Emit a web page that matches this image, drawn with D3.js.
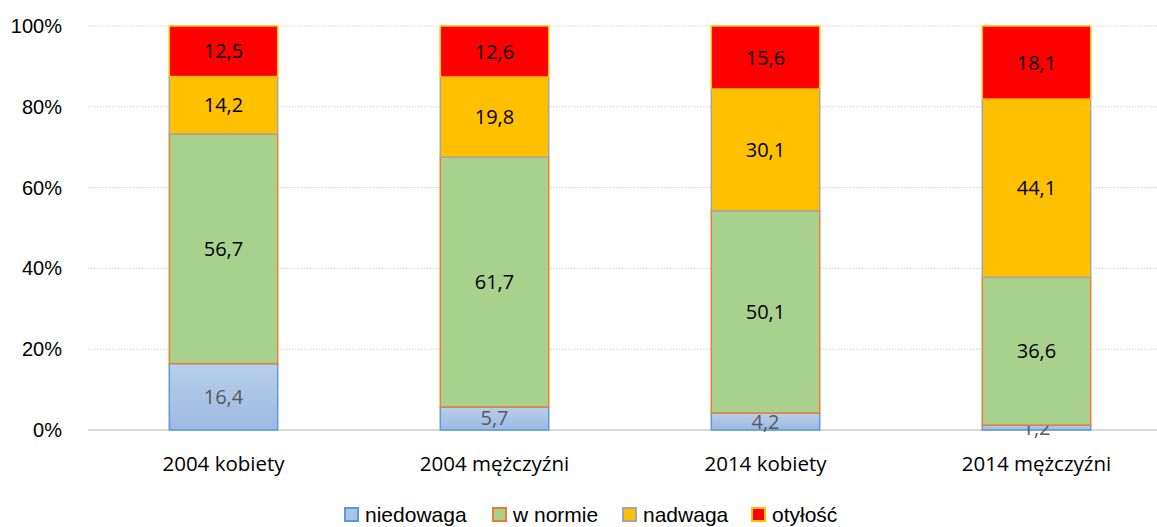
<!DOCTYPE html>
<html>
<head>
<meta charset="utf-8">
<script src="https://cdn.jsdelivr.net/npm/d3@7"></script>
<style>
  body { margin: 0; background: #fff; }
  svg { display: block; }
</style>
</head>
<body>
<svg id="chart" width="1157" height="527"></svg>
<script>
const categories = ['2004 kobiety', '2004 mężczyźni', '2014 kobiety', '2014 mężczyźni']
const seriesNames = ['niedowaga', 'w normie', 'nadwaga', 'otyłość']
const niedowaga = [16.4, 5.7, 4.2, 1.2]
const wNormie = [56.7, 61.7, 50.1, 36.6]
const nadwaga = [14.2, 19.8, 30.1, 44.1]
const otylosc = [12.5, 12.6, 15.6, 18.1]
const yTicks = [0, 0.2, 0.4, 0.6, 0.8, 1]

const fills = ['url(#gradBlue)', '#a9d18e', '#ffc000', '#ff0000']
const strokes = ['#5b9bd5', '#ed7d31', '#a5a5a5', '#ffc000']
const labelColors = ['#595959', '#000', '#000', '#000']
const legendFills = ['#a9c4e8', '#a9d18e', '#ffc000', '#ff0000']

const svg = d3.select('#chart')
const defs = svg.append('defs')
const grad = defs.append('linearGradient').attr('id', 'gradBlue')
  .attr('x1', 0).attr('y1', 0).attr('x2', 0).attr('y2', 1)
grad.append('stop').attr('offset', '0%').attr('stop-color', '#b8cfec')
grad.append('stop').attr('offset', '100%').attr('stop-color', '#9cb9e1')

const rows = categories.map((c, i) => ({
  cat: c,
  'niedowaga': niedowaga[i],
  'w normie': wNormie[i],
  'nadwaga': nadwaga[i],
  'otyłość': otylosc[i]
}))

const stack = d3.stack().keys(seriesNames).offset(d3.stackOffsetExpand)
const layers = stack(rows)

const x = d3.scaleBand().domain(categories).range([88, 1172]).paddingInner(0.6).paddingOuter(0.3)
const y = d3.scaleLinear().domain([0, 1]).range([430, 26])

// gridlines
svg.append('g').selectAll('line').data(yTicks.filter(t => t > 0)).enter().append('line')
  .attr('x1', 88).attr('x2', 1157)
  .attr('y1', d => y(d)).attr('y2', d => y(d))
  .attr('stroke', '#d0d0d0').attr('stroke-width', 1).attr('stroke-dasharray', '1.5,1.5')

// axis line
svg.append('line').attr('x1', 88).attr('x2', 1157).attr('y1', y(0)).attr('y2', y(0))
  .attr('stroke', '#d9d9d9').attr('stroke-width', 2)

// y axis labels
svg.append('g').selectAll('text').data(yTicks).enter().append('text')
  .attr('x', 62).attr('y', d => y(d)).attr('dy', '0.35em')
  .attr('text-anchor', 'end')
  .style('font-family', 'Liberation Sans, Arial, sans-serif')
  .style('font-size', '20px').attr('fill', '#000')
  .text(d => d3.format('.0%')(d))

// bars
const gLayers = svg.append('g').selectAll('g').data(layers).enter().append('g')
gLayers.selectAll('rect').data((d, i) => d.map(p => ({ p, i }))).enter().append('rect')
  .attr('x', d => x(d.p.data.cat))
  .attr('width', x.bandwidth())
  .attr('y', d => y(d.p[1]))
  .attr('height', d => y(d.p[0]) - y(d.p[1]))
  .attr('fill', d => fills[d.i])
  .attr('stroke', d => strokes[d.i])
  .attr('stroke-width', 1.5)

// data labels
gLayers.selectAll('text').data((d, i) => d.map(p => ({ p, i, key: d.key }))).enter().append('text')
  .attr('x', d => x(d.p.data.cat) + x.bandwidth() / 2)
  .attr('y', d => (y(d.p[0]) + y(d.p[1])) / 2)
  .attr('dy', '0.35em')
  .attr('text-anchor', 'middle')
  .style('font-family', 'Open Sans, sans-serif')
  .style('font-size', '20px')
  .attr('fill', d => labelColors[d.i])
  .text(d => String(d.p.data[d.key]).replace('.', ','))

// category labels
svg.append('g').selectAll('text').data(categories).enter().append('text')
  .attr('x', d => x(d) + x.bandwidth() / 2).attr('y', 464).attr('dy', '0.35em')
  .attr('text-anchor', 'middle')
  .style('font-family', 'Open Sans, sans-serif')
  .style('font-size', '20.5px').attr('fill', '#000')
  .text(d => d)

// legend
const legendX = [345, 493, 623, 752]
const legend = svg.append('g').selectAll('g').data(seriesNames).enter().append('g')
  .attr('transform', (d, i) => `translate(${legendX[i]},508)`)
legend.append('rect').attr('width', 13).attr('height', 13)
  .attr('fill', (d, i) => legendFills[i]).attr('stroke', (d, i) => strokes[i]).attr('stroke-width', 2)
legend.append('text').attr('x', 20).attr('y', 7).attr('dy', '0.35em')
  .style('font-family', 'Liberation Sans, Arial, sans-serif')
  .style('font-size', '21px').attr('fill', '#000')
  .text(d => d)
</script>
</body>
</html>
